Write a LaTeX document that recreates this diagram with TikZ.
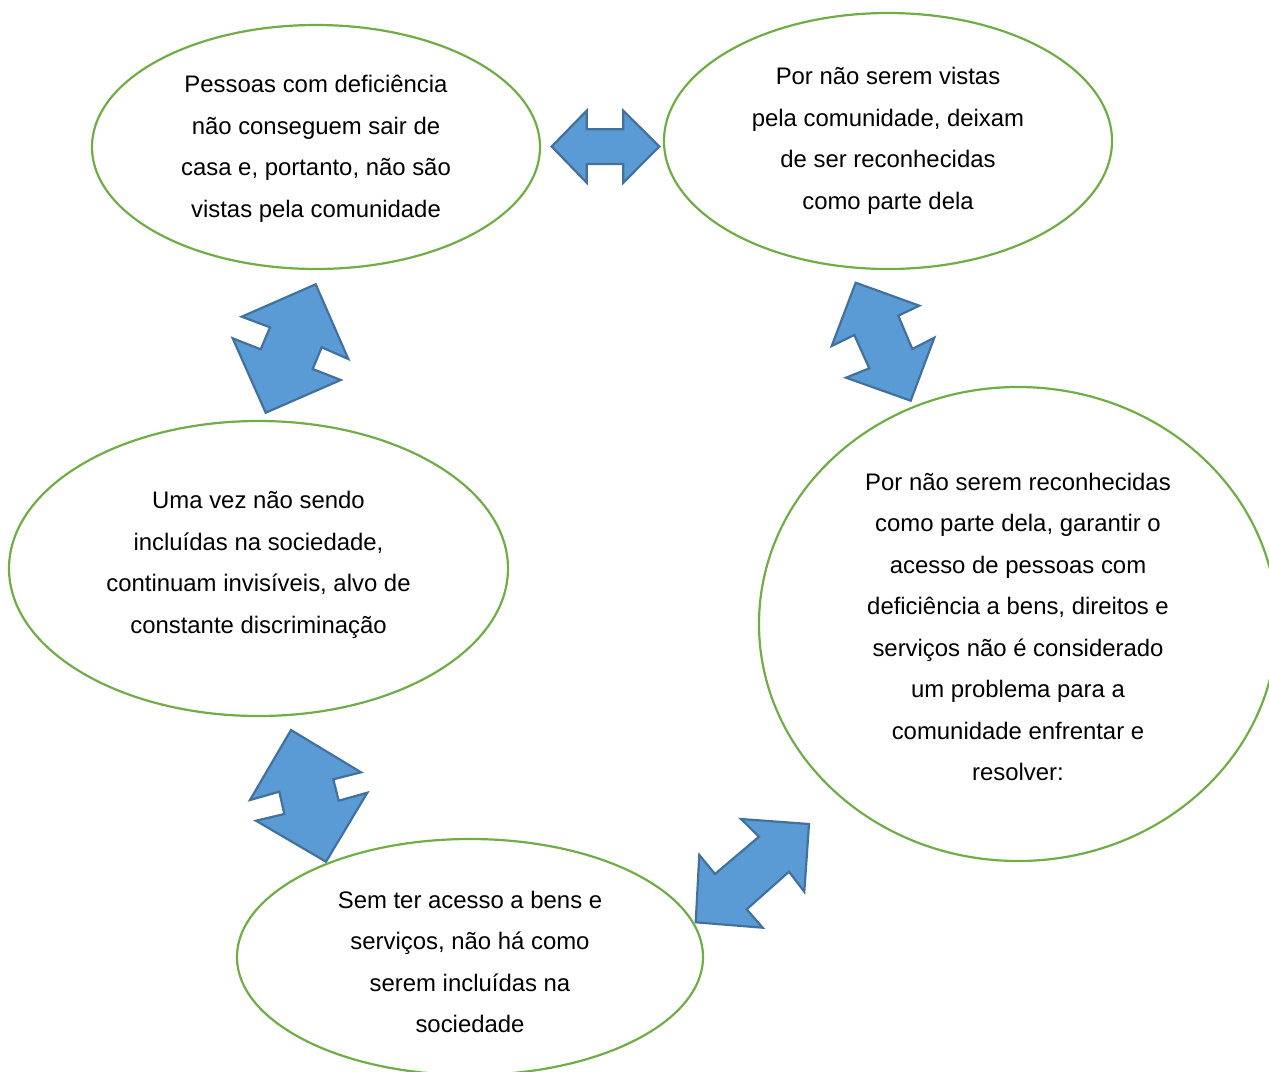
\documentclass[tikz,border=0pt]{standalone}
\usepackage{fontspec}
\setmainfont{Liberation Sans}
\usetikzlibrary{shapes.geometric}
\definecolor{clrgreen}{HTML}{70AD47}
\definecolor{clrblue}{HTML}{5B9BD5}
\definecolor{clrblueline}{HTML}{41719C}

\begin{document}
\begin{tikzpicture}[
            x=1pt, y=-1pt,
            bubble/.style={ellipse, draw=clrgreen, line width=2.2pt, inner sep=0pt},
            bubble text/.style={align=center, inner sep=0pt, font=\fontsize{23.9}{41.5}\selectfont},
            block arrow/.style={fill=clrblue, draw=clrblueline, line width=2.2pt, line join=miter},
        ]

        % Page frame (pixel units, y down)
        \clip (0,0) rectangle (1269,1071);

        % Ellipses
        \node[bubble, minimum width=448, minimum height=244] (unseen) at (316,147) {};
        \node[bubble, minimum width=448, minimum height=256] (unrecognised) at (888,141) {};
        \node[bubble, minimum width=499, minimum height=295] (excluded) at (258.5,568.5) {};
        \node[bubble, minimum width=518, minimum height=474] (noproblem) at (1018,624) {};
        \node[bubble, minimum width=466, minimum height=236] (noaccess) at (470,957) {};

        % Texts
        \node[bubble text] (unseen text) at ([yshift=-2pt]unseen.center)
            {Pessoas com deficiência\\não conseguem sair de\\casa e, portanto, não são\\vistas pela comunidade};
        \node[bubble text] (unrecognised text) at (unrecognised.center)
            {Por não serem vistas\\pela comunidade, deixam\\de ser reconhecidas\\como parte dela};
        \node[bubble text] (excluded text) at ([yshift=3.5pt]excluded.center)
            {Uma vez não sendo\\incluídas na sociedade,\\continuam invisíveis, alvo de\\constante discriminação};
        \node[bubble text] (noproblem text) at ([yshift=-3pt]noproblem.center)
            {Por não serem reconhecidas\\como parte dela, garantir o\\acesso de pessoas com\\deficiência a bens, direitos e\\serviços não é considerado\\um problema para a\\comunidade enfrentar e\\resolver:};
        \node[bubble text] (noaccess text) at ([yshift=-5pt]noaccess.center)
            {Sem ter acesso a bens e\\serviços, não há como\\serem incluídas na\\sociedade};

        % Block arrows between the ellipses
        % unseen <-> unrecognised
        \draw[block arrow] (551.7,146.5) -- (586.7,110.7) -- (586.7,129.3) -- (623.3,129.3) -- (623.3,110.7)
            -- (659.3,146.5) -- (623.3,182.7) -- (623.3,164) -- (586.7,164) -- (586.7,182.7) -- cycle;
        % unseen <-> excluded
        \draw[block arrow] (315.7,284.3) -- (348.3,359) -- (321.7,347.3) -- (312.7,369) -- (340.7,380)
            -- (265.7,412.7) -- (232.7,338.3) -- (260.7,349.3) -- (270,327.3) -- (241.7,316.7) -- cycle;
        % unrecognised <-> noproblem
        \draw[block arrow] (855.7,282.7) -- (919.3,305.7) -- (898.3,315.7) -- (912.3,349) -- (934.3,337.7)
            -- (910.7,400.7) -- (846,377.7) -- (869.3,368.3) -- (854.3,335) -- (831.7,346) -- cycle;
        % excluded <-> noaccess
        \draw[block arrow] (291,730) -- (361,772.3) -- (333.3,779.3) -- (338.7,800.7) -- (367.3,792.7)
            -- (326,861.7) -- (256,820.7) -- (284.3,814) -- (279.3,791.7) -- (250,800) -- cycle;
        % noaccess <-> noproblem
        \draw[block arrow] (741,819) -- (809,824) -- (804.3,891.7) -- (789,871.7) -- (746.7,909.3)
            -- (762.7,927.7) -- (695.7,922.3) -- (699.3,855) -- (715,874) -- (759,836.7) -- cycle;

        \end{tikzpicture}
\end{document}
